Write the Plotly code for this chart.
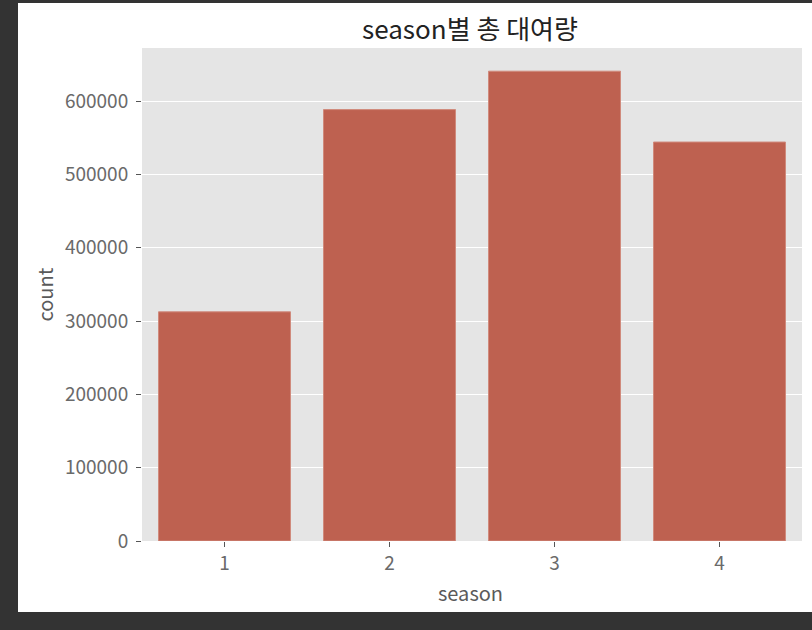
import plotly.graph_objects as go

seasons = ["1", "2", "3", "4"]
counts = [312498, 588282, 640662, 544034]
y_ticks = [0, 100000, 200000, 300000, 400000, 500000, 600000]

W, H = 812, 630
L, R, T, B = 142, 10, 48, 89
pw, ph = W - L - R, H - T - B

def px(x):
    return (x - L) / pw

def py(y):
    return (H - B - y) / ph

fig = go.Figure(go.Bar(
    x=seasons, y=counts,
    marker=dict(color="#BE6150", line=dict(color="#D08A7C", width=1)),
    width=0.8,
))

dark = "#333333"
shapes = [
    dict(type="rect", xref="paper", yref="paper", x0=px(0), x1=px(18), y0=py(H), y1=py(0),
         fillcolor=dark, line=dict(width=0), layer="above"),
    dict(type="rect", xref="paper", yref="paper", x0=px(0), x1=px(W), y0=py(H), y1=py(612),
         fillcolor=dark, line=dict(width=0), layer="above"),
    dict(type="rect", xref="paper", yref="paper", x0=px(0), x1=px(W), y0=py(3), y1=py(0),
         fillcolor=dark, line=dict(width=0), layer="above"),
]

font_family = "Noto Sans CJK KR, Noto Sans, sans-serif"
tick_color = "#6a6a6a"

annotations = [
    dict(text="season", xref="paper", yref="paper", x=px(470), y=py(592),
         xanchor="center", yanchor="middle", showarrow=False,
         font=dict(size=20, color="#5a5a5a", family=font_family)),
    dict(text="count", xref="paper", yref="paper", x=px(43.5), y=py(295),
         xanchor="center", yanchor="middle", showarrow=False, textangle=-90,
         font=dict(size=20, color="#5a5a5a", family=font_family)),
]

fig.update_layout(
    width=W, height=H,
    margin=dict(l=L, r=R, t=T, b=B, pad=0),
    paper_bgcolor="white",
    plot_bgcolor="#E5E5E5",
    shapes=shapes,
    annotations=annotations,
    showlegend=False,
    font=dict(family=font_family, color=tick_color),
    title=dict(text="season별 총 대여량", xref="container", yref="container",
               x=470 / W, xanchor="center", y=1 - 30 / H, yanchor="middle",
               font=dict(size=26, color="#222222", family=font_family)),
    xaxis=dict(
        type="category", range=[-0.5, 3.5],
        showgrid=False, zeroline=False, showline=False,
        ticks="outside", ticklen=5, tickwidth=1, tickcolor="#555555",
        tickfont=dict(size=19, color=tick_color),
    ),
    yaxis=dict(
        range=[0, 672273],
        tickvals=y_ticks, ticktext=[str(v) for v in y_ticks],
        showgrid=True, gridcolor="white", gridwidth=1.3,
        zeroline=False, showline=False,
        ticks="outside", ticklen=5, tickwidth=1, tickcolor="#555555",
        tickfont=dict(size=19, color=tick_color),
        ticklabelstandoff=4,
    ),
    bargap=0.2,
)

fig.write_html(
    "out.html",
    config={"displayModeBar": False},
    post_script="document.body.style.margin='0';document.body.style.overflow='hidden';",
)
